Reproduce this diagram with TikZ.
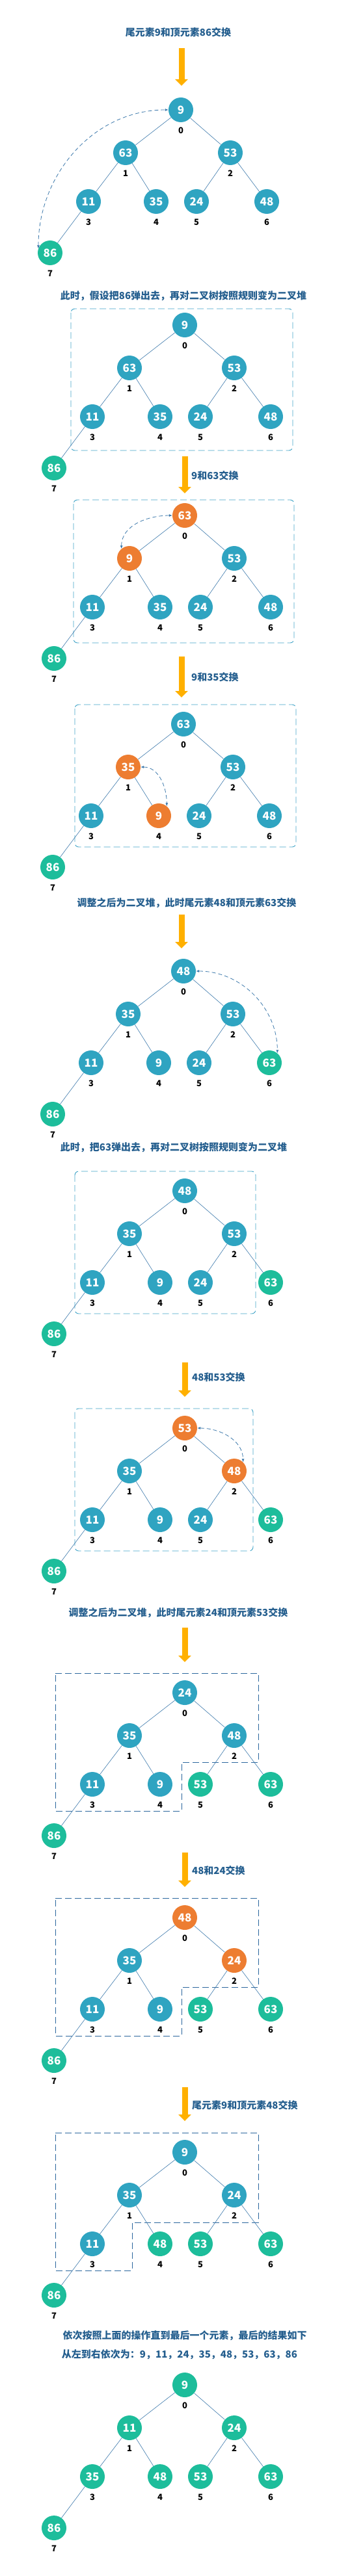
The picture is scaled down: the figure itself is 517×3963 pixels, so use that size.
\documentclass[tikz,border=0pt]{standalone}
\usepackage{fontspec}
\setmainfont{Noto Sans CJK SC}
\usepackage{tikz}
\usetikzlibrary{arrows.meta}

\definecolor{nblue}{HTML}{2FA4C1}
\definecolor{ngreen}{HTML}{1DBD9B}
\definecolor{norange}{HTML}{ED7D31}
\definecolor{txtblue}{HTML}{245E8E}
\definecolor{linkblue}{HTML}{3A77AA}
\definecolor{boxblue}{HTML}{3DA2C6}
\definecolor{cutblue}{HTML}{2C679E}
\definecolor{yarrow}{HTML}{FFB000}

% one heap: prefix, root position, colour/value for index 0..7
\newcommand\heaptree[3]{%
  \coordinate (#1r) at #2;
  \foreach \col/\val [count=\i from 0] in {#3} {
    \pgfmathsetmacro\dx{{0,-85,76,-142,-38,24,132,-201}[\i]}
    \pgfmathsetmacro\dy{{0,66,66,141,141,141,141,220}[\i]}
    \node[hnode=\col] (#1\i) at ([shift={(\dx,\dy)}]#1r) {\val};
    \node[idx] (#1x\i) at ([yshift=-32pt]#1\i.center) {\i};
  }
  \foreach \k/\p in {1/0,2/0,3/1,4/1,5/2,6/2,7/3}
    \draw[link] (#1\p) -- (#1\k);
}

\begin{document}
\begin{tikzpicture}[x=1pt,y=-1pt,
  hnode/.style={circle,fill=#1,minimum size=38pt,inner sep=0pt,text=white,
    font=\bfseries\fontsize{17}{17}\selectfont},
  idx/.style={inner sep=0pt,font=\bfseries\fontsize{13}{13}\selectfont},
  link/.style={linkblue,line width=0.6pt},
  swaplink/.style={linkblue,line width=0.8pt,dash pattern=on 6pt off 4pt,
    {Latex[length=5pt,width=4pt]}-{Latex[length=5pt,width=4pt]}},
  bigarrow/.style={yarrow,line width=9pt,-{Triangle[width=19pt,length=10pt]}},
  steptext/.style={txtblue,inner sep=0pt,font=\bfseries\fontsize{15}{15}\selectfont},
  heapbox/.style={boxblue,line width=0.9pt,dash pattern=on 10pt off 5pt,rounded corners=6pt},
  cutbox/.style={cutblue,line width=0.9pt,dash pattern=on 10pt off 5pt}]
\useasboundingbox (0,0) rectangle (517,3963);

% step 1
\node[steptext] (txtA) at (274,50) {尾元素9和顶元素86交换};
\path (279,74) coordinate (ya1) (279,132) coordinate (ya2);
\draw[bigarrow] (ya1) -- (ya2);
\heaptree{a}{(278,169)}{nblue/9,nblue/63,nblue/53,nblue/11,nblue/35,nblue/24,nblue/48,ngreen/86}
\draw[swaplink] (a7.160) to[out=90,in=180] (a0.west);

% step 2
\node[steptext] (txtB) at (282,455) {此时，假设把86弹出去，再对二叉树按照规则变为二叉堆};
\draw[heapbox] (109,475) rectangle (450,693);
\heaptree{b}{(284,500)}{nblue/9,nblue/63,nblue/53,nblue/11,nblue/35,nblue/24,nblue/48,ngreen/86}

% step 3
\path (284,702) coordinate (yc1) (284,759) coordinate (yc2);
\draw[bigarrow] (yc1) -- (yc2);
\node[steptext,anchor=west] (txtC) at (294,732) {9和63交换};
\draw[heapbox] (113,769) rectangle (452,989);
\heaptree{c}{(284,793)}{norange/63,norange/9,nblue/53,nblue/11,nblue/35,nblue/24,nblue/48,ngreen/86}
\draw[swaplink] (c1.130) to[out=90,in=180] (c0.west);

% step 4
\path (279,1010) coordinate (yd1) (279,1073) coordinate (yd2);
\draw[bigarrow] (yd1) -- (yd2);
\node[steptext,anchor=west] (txtD) at (294,1042) {9和35交换};
\draw[heapbox] (115,1084) rectangle (455,1303);
\heaptree{d}{(282,1114)}{nblue/63,norange/35,nblue/53,nblue/11,norange/9,nblue/24,nblue/48,ngreen/86}
\draw[swaplink] (d1.east) to[out=0,in=90] (d4.50);

% step 5
\node[steptext] (txtE) at (287,1389) {调整之后为二叉堆，此时尾元素48和顶元素63交换};
\path (279,1407) coordinate (ye1) (279,1459) coordinate (ye2);
\draw[bigarrow] (ye1) -- (ye2);
\heaptree{e}{(282,1494)}{nblue/48,nblue/35,nblue/53,nblue/11,nblue/9,nblue/24,ngreen/63,ngreen/86}
\draw[swaplink] (e0.east) to[out=0,in=90] (e6.50);

% step 6
\node[steptext] (txtF) at (267,1765) {此时，把63弹出去，再对二叉树按照规则变为二叉堆};
\draw[heapbox] (115,1802) rectangle (393,2021);
\heaptree{f}{(284,1832)}{nblue/48,nblue/35,nblue/53,nblue/11,nblue/9,nblue/24,ngreen/63,ngreen/86}

% step 7
\path (284,2096) coordinate (yg1) (284,2149) coordinate (yg2);
\draw[bigarrow] (yg1) -- (yg2);
\node[steptext,anchor=west] (txtG) at (295,2119) {48和53交换};
\draw[heapbox] (115,2167) rectangle (389,2386);
\heaptree{g}{(284,2197)}{norange/53,nblue/35,norange/48,nblue/11,nblue/9,nblue/24,ngreen/63,ngreen/86}
\draw[swaplink] (g0.east) to[out=0,in=90] (g2.45);

% step 8
\node[steptext] (txtH) at (274,2481) {调整之后为二叉堆，此时尾元素24和顶元素53交换};
\path (284,2504) coordinate (yh1) (284,2557) coordinate (yh2);
\draw[bigarrow] (yh1) -- (yh2);
\draw[cutbox] (85,2574) -- (397,2574) -- (397,2711) -- (279,2711) -- (279,2786) -- (85,2786) -- cycle;
\heaptree{h}{(284,2604)}{nblue/24,nblue/35,nblue/48,nblue/11,nblue/9,ngreen/53,ngreen/63,ngreen/86}

% step 9
\path (284,2850) coordinate (yi1) (284,2903) coordinate (yi2);
\draw[bigarrow] (yi1) -- (yi2);
\node[steptext,anchor=west] (txtI) at (295,2878) {48和24交换};
\draw[cutbox] (85,2920) -- (397,2920) -- (397,3057) -- (279,3057) -- (279,3132) -- (85,3132) -- cycle;
\heaptree{i}{(284,2950)}{norange/48,nblue/35,norange/24,nblue/11,nblue/9,ngreen/53,ngreen/63,ngreen/86}

% step 10
\path (284,3211) coordinate (yj1) (284,3263) coordinate (yj2);
\draw[bigarrow] (yj1) -- (yj2);
\node[steptext,anchor=west] (txtJ) at (295,3239) {尾元素9和顶元素48交换};
\draw[cutbox] (85,3281) -- (397,3281) -- (397,3419) -- (203,3419) -- (203,3493) -- (85,3493) -- cycle;
\heaptree{j}{(284,3311)}{nblue/9,nblue/35,nblue/24,nblue/11,ngreen/48,ngreen/53,ngreen/63,ngreen/86}

% result
\node[steptext] (txtK) at (284,3593) {依次按照上面的操作直到最后一个元素，最后的结果如下};
\node[steptext] (txtL) at (276,3622) {从左到右依次为：9，11，24，35，48，53，63，86};
\heaptree{k}{(284,3669)}{ngreen/9,ngreen/11,ngreen/24,ngreen/35,ngreen/48,ngreen/53,ngreen/63,ngreen/86}
\end{tikzpicture}
\end{document}
